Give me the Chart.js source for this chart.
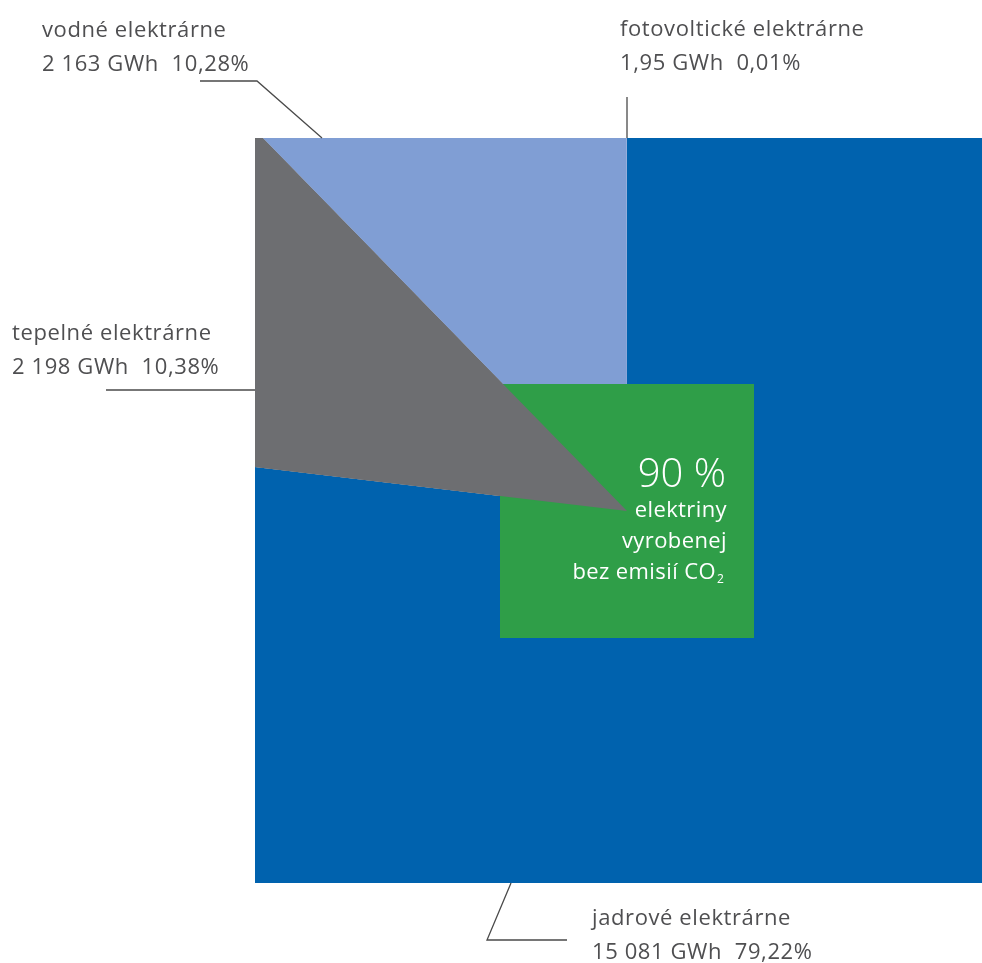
<!DOCTYPE html>
<html>
<head>
<meta charset="utf-8">
<script src="https://cdn.jsdelivr.net/npm/chart.js@4"></script>
<style>
  body { margin: 0; background: #fff; }
  canvas { display: block; }
</style>
</head>
<body>
<canvas id="chart" width="982" height="963"></canvas>
<script>
// order follows the pie clockwise from 12 o'clock
const categories = ['jadrové elektrárne', 'tepelné elektrárne', 'vodné elektrárne', 'fotovoltické elektrárne'];
const productionLabels = ['15 081 GWh', '2 198 GWh', '2 163 GWh', '1,95 GWh'];
const shareLabels = ['79,22%', '10,38%', '10,28%', '0,01%'];
// slice sizes as drawn in the picture (%)
const sliceShare = [76.87, 10.82, 12.3, 0.01];
const colors = ['#0062ae', '#6d6e71', '#809ed4', '#809ed4'];

const centerTitle = '90 %';
const centerLines = ['elektriny', 'vyrobenej', 'bez emisií CO'];

// where each label and its leader line go (page pixels)
const labelPos = [
    {x: 592, y: 925, line: [[511, 883], [487, 940], [567, 940]]},
    {x: 12, y: 340, line: [[106, 390], [255, 390]]},
    {x: 42, y: 37, line: [[200, 81], [257, 81], [322, 138]]},
    {x: 620, y: 36, line: [[627, 97], [627, 138]]}
];
// visible frame of the pie and the green box
const frame = {x: 255, y: 138, w: 727, h: 745};
const box = {x: 500, y: 384, w: 254, h: 254};

const TEXT_COLOR = '#4f4f51';
const FONT = '"Open Sans", sans-serif';

const clipPlugin = {
    id: 'clipFrame',
    beforeDatasetsDraw(chart) {
        let ctx = chart.ctx;
        ctx.save();
        ctx.beginPath();
        ctx.rect(frame.x, frame.y, frame.w, frame.h);
        ctx.clip();
    },
    afterDatasetsDraw(chart) {
        let ctx = chart.ctx;
        // green box sits above blue slices but under the grey one
        ctx.fillStyle = '#2f9e48';
        ctx.fillRect(box.x, box.y, box.w, box.h);
        let meta = chart.getDatasetMeta(0);
        meta.data[1].draw(ctx);
        ctx.restore();
    },
    afterDraw(chart) {
        let ctx = chart.ctx;
        ctx.save();

        //Labels and leader lines
        ctx.strokeStyle = '#4a4a4a';
        ctx.lineWidth = 1.3;
        ctx.fillStyle = TEXT_COLOR;
        ctx.font = '22px ' + FONT;
        ctx.letterSpacing = '0.6px';
        ctx.textAlign = 'left';
        ctx.textBaseline = 'alphabetic';
        labelPos.forEach((p, i) => {
            ctx.fillText(categories[i], p.x, p.y);
            ctx.fillText(productionLabels[i] + '  ' + shareLabels[i], p.x, p.y + 34);
            ctx.beginPath();
            p.line.forEach((pt, j) => {
                if (j === 0) ctx.moveTo(pt[0], pt[1]);
                else ctx.lineTo(pt[0], pt[1]);
            });
            ctx.stroke();
        });

        //Text in the green box
        ctx.fillStyle = '#ffffff';
        ctx.textAlign = 'right';
        ctx.letterSpacing = '0px';
        ctx.font = '300 40px ' + FONT;
        ctx.fillText(centerTitle, 726, 487);
        ctx.font = '22px ' + FONT;
        ctx.letterSpacing = '0.4px';
        ctx.fillText(centerLines[0], 727, 517);
        ctx.fillText(centerLines[1], 727, 548);
        ctx.fillText(centerLines[2], 716, 579);
        ctx.textAlign = 'left';
        ctx.letterSpacing = '0px';
        ctx.font = '12px ' + FONT;
        ctx.fillText('2', 717, 583);
        ctx.restore();
    }
};

new Chart(document.getElementById('chart'), {
    type: 'pie',
    data: {
        labels: categories,
        datasets: [{
            data: sliceShare,
            backgroundColor: colors,
            borderWidth: 0
        }]
    },
    options: {
        responsive: false,
        animation: false,
        events: [],
        devicePixelRatio: 1,
        radius: 560,
        layout: {padding: {left: 272, top: 59, right: 0, bottom: 0}},
        plugins: {
            legend: {display: false},
            tooltip: {enabled: false}
        }
    },
    plugins: [clipPlugin]
});
</script>
</body>
</html>
